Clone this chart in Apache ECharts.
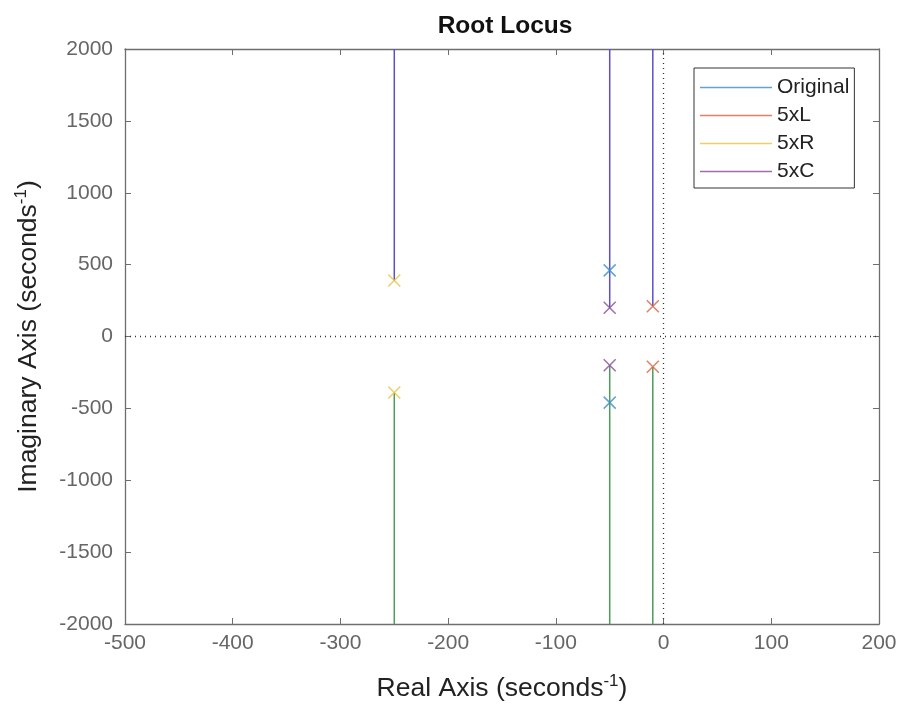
<!DOCTYPE html>
<html>
<head>
<meta charset="utf-8">
<title>Root Locus</title>
<script src="https://cdn.jsdelivr.net/npm/echarts@6/dist/echarts.min.js"></script>
<style>
  html, body { margin: 0; padding: 0; background: #fff; }
  #chart { width: 901px; height: 708px; }
</style>
</head>
<body>
<div id="chart"></div>
<script>
// systems and their closed-loop poles (upper half, mirrored below)
var sysNames  = ['Original', '5xL', '5xR', '5xC'];
var sysColors = ['#3b8fc4', '#d8623a', '#eec040', '#8a4a96'];
var poleRe    = [-50, -10, -250, -50];
var poleIm    = [460, 210, 390, 200];

// locus branches: start (pole) -> end of visible range
var branchRe    = [-250, -50, -10];
var branchStart = [390, 200, 210];
var branchEnd   = [2000, 2000, 2000];

var xTicks = {min: -500, max: 200, step: 100};
var yTicks = {min: -2000, max: 2000, step: 500};

var axisGrey = '#6e6e6e';
var labelFont = 'Liberation Sans, Arial, sans-serif';

var chart = echarts.init(document.getElementById('chart'));

var crossPath = 'path://M0,0L10,10M10,0L0,10';

var series = [];

// upper branches (blue) and lower branches (green)
branchRe.forEach(function(re, i) {
  series.push({
    type: 'line',
    silent: true,
    symbol: 'none',
    z: 2,
    lineStyle: {color: '#5a4fd0', width: 1.5},
    data: [[re, branchStart[i]], [re, branchEnd[i]]]
  });
  series.push({
    type: 'line',
    silent: true,
    symbol: 'none',
    z: 2,
    lineStyle: {color: '#4f9a5c', width: 1.5},
    data: [[re, -branchStart[i]], [re, -branchEnd[i]]]
  });
});

// poles
sysNames.forEach(function(name, i) {
  series.push({
    name: name,
    type: 'scatter',
    symbol: crossPath,
    symbolSize: 12,
    z: 5,
    itemStyle: {color: 'none', borderColor: sysColors[i], borderWidth: 1.5},
    data: [[poleRe[i], poleIm[i]], [poleRe[i], -poleIm[i]]]
  });
});

// dotted zero lines
series.push({
  type: 'line',
  data: [],
  markLine: {
    silent: true,
    symbol: 'none',
    label: {show: false},
    lineStyle: {color: '#333', type: [1, 4], width: 1.3},
    data: [{xAxis: 0}, {yAxis: 0}]
  }
});

function plain(v) { return String(v); }

var nameRich = {
  a: {fontFamily: labelFont, fontSize: 26.5, color: '#222'},
  s: {fontFamily: labelFont, fontSize: 17, color: '#222', padding: [0, 0, 15, 0]}
};

var option = {
  animation: false,
  backgroundColor: '#fff',
  title: {
    text: 'Root Locus',
    left: 500,
    textAlign: 'center',
    top: 9,
    textStyle: {fontFamily: labelFont, fontSize: 24.5, fontWeight: 'bold', color: '#111'}
  },
  legend: {
    orient: 'vertical',
    left: 694,
    top: 68,
    padding: [9, 5, 6, 6],
    itemGap: 7,
    itemWidth: 72,
    itemHeight: 21,
    borderColor: '#333',
    borderWidth: 1,
    backgroundColor: '#fff',
    icon: 'path://M0,8H72V9.3H0Z',
    textStyle: {fontFamily: labelFont, fontSize: 21, lineHeight: 21, color: '#222'},
    data: sysNames.map(function(n, i) {
      return {name: n, itemStyle: {color: sysColors[i], borderWidth: 0}};
    })
  },
  grid: {left: 125, right: 22, top: 49, bottom: 84},
  xAxis: [{
    type: 'value',
    min: xTicks.min, max: xTicks.max, interval: xTicks.step,
    name: '{a|Real Axis (seconds}{s|-1}{a|)}',
    nameLocation: 'middle',
    nameGap: 49,
    nameTextStyle: {rich: nameRich},
    axisLine: {show: true, onZero: false, lineStyle: {color: axisGrey, width: 1.3}},
    axisTick: {show: true, inside: true, length: 6, lineStyle: {color: axisGrey}},
    axisLabel: {fontFamily: labelFont, fontSize: 21, color: '#666', margin: 9, formatter: plain},
    splitLine: {show: false}
  }, {
    type: 'value', position: 'top',
    min: xTicks.min, max: xTicks.max, interval: xTicks.step,
    axisLine: {show: true, onZero: false, lineStyle: {color: axisGrey, width: 1.3}},
    axisTick: {show: true, inside: true, length: 6, lineStyle: {color: axisGrey}},
    axisLabel: {show: false},
    splitLine: {show: false}
  }],
  yAxis: [{
    type: 'value',
    min: yTicks.min, max: yTicks.max, interval: yTicks.step,
    name: '{a|Imaginary Axis (seconds}{s|-1}{a|)}',
    nameLocation: 'middle',
    nameGap: 80,
    nameTextStyle: {rich: nameRich},
    axisLine: {show: true, onZero: false, lineStyle: {color: axisGrey, width: 1.3}},
    axisTick: {show: true, inside: true, length: 6, lineStyle: {color: axisGrey}},
    axisLabel: {fontFamily: labelFont, fontSize: 21, color: '#666', margin: 12, formatter: plain},
    splitLine: {show: false}
  }, {
    type: 'value', position: 'right',
    min: yTicks.min, max: yTicks.max, interval: yTicks.step,
    axisLine: {show: true, onZero: false, lineStyle: {color: axisGrey, width: 1.3}},
    axisTick: {show: true, inside: true, length: 6, lineStyle: {color: axisGrey}},
    axisLabel: {show: false},
    splitLine: {show: false}
  }],
  series: series
};

chart.setOption(option);
</script>
</body>
</html>
